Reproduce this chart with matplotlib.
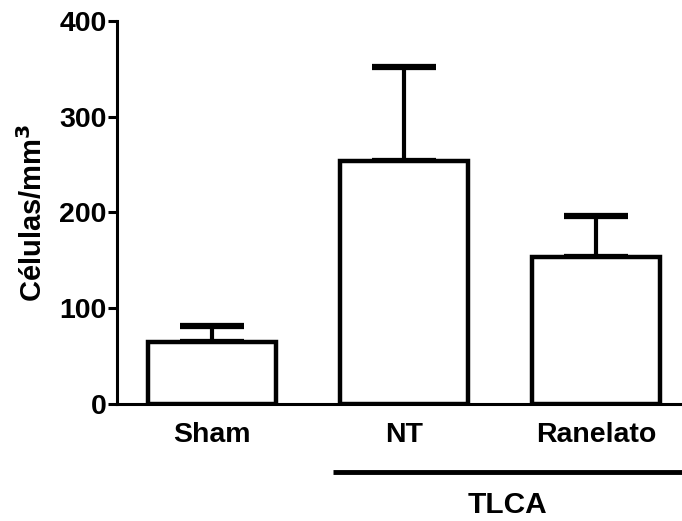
import matplotlib.pyplot as plt
import numpy as np

## Data
groups = ['Sham', 'NT', 'Ranelato']
means = [65, 254, 153]
errs = [16, 98, 43]
yticks = [0, 100, 200, 300, 400]

plt.rcParams['font.family'] = ['Liberation Sans', 'DejaVu Sans']
plt.rcParams['font.weight'] = 'bold'

fig = plt.figure(figsize=(6.82, 5.21), dpi=100)
ax = fig.add_axes([0.1716, 0.2246, 0.8284, 0.7351])

x = np.arange(len(groups))
ax.errorbar(x, means, yerr=[[0] * len(errs), errs], fmt='none', ecolor='black',
            elinewidth=3, capsize=23, capthick=4.5, zorder=1)
ax.bar(x, means, width=0.667, color='white', edgecolor='black', linewidth=3.2, zorder=2)

## Axes config
ax.set_xlim(-0.495, 2.448)
ax.set_ylim(0, 400)
ax.set_yticks(yticks)
ax.set_xticks(x)
ax.set_xticklabels(groups, fontsize=20.5, fontweight='bold')
ax.tick_params(axis='y', direction='out', length=6.5, width=2.2, labelsize=20.5, pad=1)
ax.tick_params(axis='x', length=0, pad=13)
for lbl in ax.get_yticklabels():
    lbl.set_fontweight('bold')
ax.set_ylabel('Células/mm$^\\mathbf{3}$', fontsize=21, fontweight='bold', labelpad=8)
ax.spines['top'].set_visible(False)
ax.spines['right'].set_visible(False)
ax.spines['left'].set_linewidth(2.2)
ax.spines['bottom'].set_linewidth(2.2)

## Group bracket for TLCA
trans = ax.get_xaxis_transform()
ax.plot([0.63, 2.448], [-0.178, -0.178], color='black', linewidth=3.5,
        transform=trans, clip_on=False, solid_capstyle='butt')
ax.text(1.54, -0.284, 'TLCA', transform=trans, ha='center', va='baseline',
        fontsize=21.5, fontweight='bold')

plt.savefig('out.png', dpi=100)
